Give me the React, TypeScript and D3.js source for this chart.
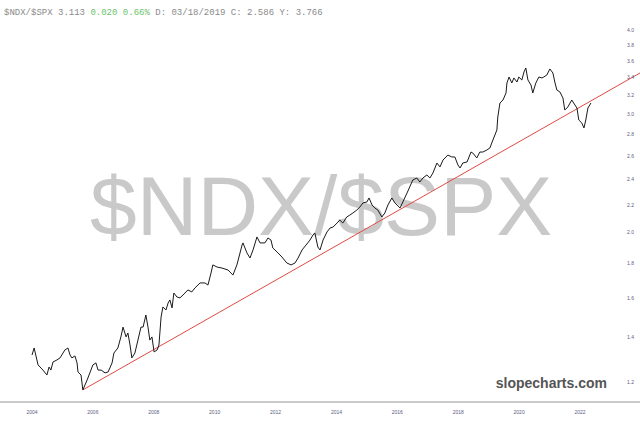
import React from "react";
import * as d3 from "d3";

const years: number[] = [
  2004.0, 2004.07, 2004.2, 2004.36, 2004.49, 2004.56, 2004.62, 2004.69, 2004.82, 2004.92,
  2005.08, 2005.18, 2005.25, 2005.31, 2005.41, 2005.48, 2005.51, 2005.61, 2005.67, 2005.81,
  2005.9, 2006.0, 2006.1, 2006.17, 2006.27, 2006.4, 2006.5, 2006.63, 2006.69, 2006.82,
  2006.92, 2006.99, 2007.09, 2007.15, 2007.22, 2007.28, 2007.38, 2007.48, 2007.58, 2007.65,
  2007.74, 2007.81, 2007.87, 2007.94, 2008.01, 2008.11, 2008.17, 2008.24, 2008.3, 2008.4,
  2008.47, 2008.53, 2008.6, 2008.66, 2008.76, 2008.86, 2008.96, 2009.12, 2009.25, 2009.35,
  2009.52, 2009.68, 2009.78, 2009.88, 2009.94, 2010.08, 2010.24, 2010.44, 2010.6, 2010.73,
  2010.9, 2010.93, 2011.06, 2011.16, 2011.26, 2011.39, 2011.49, 2011.65, 2011.75, 2011.85,
  2011.91, 2012.05, 2012.21, 2012.37, 2012.51, 2012.64, 2012.74, 2012.87, 2013.0, 2013.13,
  2013.23, 2013.29, 2013.39, 2013.46, 2013.56, 2013.69, 2013.79, 2013.89, 2014.02, 2014.11,
  2014.21, 2014.34, 2014.44, 2014.54, 2014.67, 2014.77, 2014.87, 2015.0, 2015.07, 2015.17,
  2015.26, 2015.36, 2015.49, 2015.59, 2015.69, 2015.82, 2015.92, 2016.09, 2016.18, 2016.32,
  2016.51, 2016.64, 2016.74, 2016.84, 2016.97, 2017.07, 2017.17, 2017.3, 2017.4, 2017.5,
  2017.66, 2017.79, 2017.89, 2017.99, 2018.06, 2018.15, 2018.29, 2018.42, 2018.48, 2018.61,
  2018.71, 2018.81, 2018.94, 2019.04, 2019.14, 2019.27, 2019.3, 2019.37, 2019.47, 2019.57,
  2019.6, 2019.67, 2019.76, 2019.83, 2019.93, 2019.99, 2020.09, 2020.16, 2020.22, 2020.29,
  2020.39, 2020.45, 2020.55, 2020.65, 2020.75, 2020.81, 2020.91, 2021.01, 2021.11, 2021.18,
  2021.24, 2021.34, 2021.44, 2021.5, 2021.6, 2021.73, 2021.77, 2021.9, 2021.96, 2022.06,
  2022.13, 2022.19, 2022.26, 2022.36,
];

const ratio: number[] = [
  1.316, 1.348, 1.272, 1.25, 1.229, 1.263, 1.25, 1.285, 1.294, 1.303,
  1.339, 1.348, 1.316, 1.303, 1.312, 1.281, 1.242, 1.229, 1.168, 1.208,
  1.238, 1.272, 1.281, 1.25, 1.25, 1.238, 1.242, 1.281, 1.325, 1.348,
  1.4, 1.448, 1.4, 1.419, 1.362, 1.303, 1.325, 1.385, 1.448, 1.448,
  1.509, 1.448, 1.385, 1.4, 1.33, 1.339, 1.362, 1.499, 1.551, 1.535,
  1.572, 1.589, 1.546, 1.627, 1.605, 1.6, 1.616, 1.644, 1.633, 1.655,
  1.684, 1.684, 1.672, 1.742, 1.791, 1.778, 1.772, 1.76, 1.73, 1.791,
  1.917, 1.931, 1.866, 1.834, 1.885, 1.971, 1.931, 1.931, 1.964, 1.95,
  1.898, 1.872, 1.84, 1.803, 1.791, 1.803, 1.834, 1.885, 1.917, 1.95,
  1.984, 1.998, 1.904, 1.885, 1.95, 2.005, 2.032, 2.039, 2.067, 2.088,
  2.067, 2.11, 2.124, 2.139, 2.161, 2.183, 2.214, 2.221, 2.252, 2.198,
  2.176, 2.161, 2.11, 2.139, 2.198, 2.252, 2.214, 2.176, 2.221, 2.291,
  2.395, 2.411, 2.378, 2.411, 2.436, 2.411, 2.453, 2.538, 2.504, 2.564,
  2.608, 2.591, 2.591, 2.521, 2.495, 2.538, 2.547, 2.635, 2.626, 2.582,
  2.635, 2.635, 2.653, 2.672, 2.746, 2.841, 2.971, 3.116, 3.148, 3.225,
  3.337, 3.406, 3.337, 3.395, 3.348, 3.406, 3.371, 3.465, 3.513, 3.371,
  3.314, 3.225, 3.337, 3.406, 3.395, 3.406, 3.429, 3.501, 3.453, 3.337,
  3.258, 3.236, 3.17, 3.042, 3.074, 3.148, 3.127, 3.063, 2.94, 2.91,
  2.861, 2.94, 3.063, 3.116,
];

const trendYears: number[] = [2005.67, 2023.97];
const trendValues: number[] = [1.168, 3.453];

const xTickYears: number[] = [2004, 2006, 2008, 2010, 2012, 2014, 2016, 2018, 2020, 2022];
const yTickValues: number[] = [1.2, 1.4, 1.6, 1.8, 2.0, 2.2, 2.4, 2.6, 2.8, 3.0, 3.2, 3.4, 3.6, 3.8, 4.0];

const W = 640;
const H = 425;

export default function App() {
  const x = d3.scaleLinear().domain([2004, 2022]).range([32, 580]);
  const y = d3.scaleLog().domain([1.2, 4.0]).range([382, 30]);

  const pts: [number, number][] = years.map((t, i) => [t, ratio[i]]);
  const line = d3
    .line<[number, number]>()
    .x((d) => x(d[0]))
    .y((d) => y(d[1]));

  const trendPts: [number, number][] = trendYears.map((t, i) => [t, trendValues[i]]);

  const mono = "'Liberation Mono', 'DejaVu Sans Mono', monospace";
  const sans = "'Liberation Sans', Arial, sans-serif";

  return (
    <svg
      width={W}
      height={H}
      style={{ position: "absolute", left: 0, top: 0, display: "block", background: "#fff" }}
    >
      <rect x={0} y={0} width={W} height={H} fill="#fff" />
      <text x={90} y={235} fontFamily={sans} fontSize={84} fill="#c9c9c9">
        $NDX/$SPX
      </text>
      <text x={4} y={15} fontFamily={mono} fontSize={9} fill="#8a8a8a">
        <tspan>$NDX/$SPX 3.113 </tspan>
        <tspan fill="#6cc46c">0.020 0.66% </tspan>
        <tspan>D: 03/18/2019 C: 2.586 Y: 3.766</tspan>
      </text>
      <path d={line(trendPts) || ""} fill="none" stroke="#e04a44" strokeWidth={1} />
      <path d={line(pts) || ""} fill="none" stroke="#1a1a1a" strokeWidth={1} strokeLinejoin="round" />
      {yTickValues.map((v) => (
        <text
          key={v}
          x={627}
          y={y(v)}
          dy="0.35em"
          fontFamily={sans}
          fontSize={5}
          fill="#5c5c80"
        >
          {v.toFixed(1)}
        </text>
      ))}
      <text x={607} y={388} textAnchor="end" fontFamily={sans} fontSize={14} fontWeight="bold" fill="#555">
        slopecharts.com
      </text>
      <line x1={0} x2={W} y1={402} y2={402} stroke="#b8b8b8" strokeWidth={1.5} />
      {xTickYears.map((t) => (
        <text
          key={t}
          x={x(t)}
          y={414}
          textAnchor="middle"
          fontFamily={sans}
          fontSize={5}
          fill="#5c5c80"
        >
          {t}
        </text>
      ))}
    </svg>
  );
}
